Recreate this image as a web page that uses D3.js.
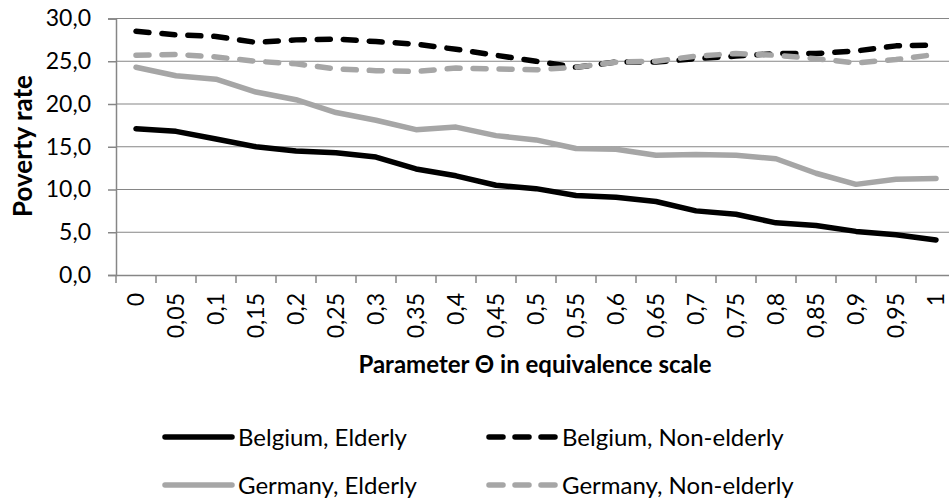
<!DOCTYPE html>
<html><head><meta charset="utf-8">
<script src="https://cdn.jsdelivr.net/npm/d3@7"></script>
<style>
html,body{margin:0;padding:0;background:#fff;}
text{font-family:Lato,"Open Sans",sans-serif;fill:#000;}
</style></head>
<body><svg id="chart" width="949" height="502"></svg>
<script>
const categories = ["0","0,05","0,1","0,15","0,2","0,25","0,3","0,35","0,4","0,45","0,5","0,55","0,6","0,65","0,7","0,75","0,8","0,85","0,9","0,95","1"];
const belgiumElderly    = [17.1,16.8,15.9,15.0,14.5,14.3,13.8,12.4,11.6,10.5,10.1,9.3,9.1,8.6,7.5,7.1,6.1,5.8,5.1,4.7,4.1];
const belgiumNonElderly = [28.5,28.1,27.9,27.2,27.5,27.6,27.3,27.0,26.4,25.7,25.0,24.3,24.9,24.9,25.3,25.6,25.9,25.9,26.2,26.8,26.9];
const germanyElderly    = [24.3,23.3,22.9,21.4,20.5,19.0,18.1,17.0,17.3,16.3,15.8,14.8,14.7,14.0,14.1,14.0,13.6,11.9,10.6,11.2,11.3];
const germanyNonElderly = [25.7,25.8,25.5,25.0,24.7,24.1,23.9,23.8,24.2,24.1,24.0,24.3,24.9,25.0,25.6,25.9,25.7,25.3,24.8,25.2,25.8];
const yTicks = [0,5,10,15,20,25,30];
const seriesNames = ["Belgium, Elderly","Belgium, Non-elderly","Germany, Elderly","Germany, Non-elderly"];

(function(){
const series = [
  {name:seriesNames[0], values:belgiumElderly, color:"#000000", dash:null},
  {name:seriesNames[1], values:belgiumNonElderly, color:"#000000", dash:"13 13"},
  {name:seriesNames[2], values:germanyElderly, color:"#a6a6a6", dash:null},
  {name:seriesNames[3], values:germanyNonElderly, color:"#a6a6a6", dash:"13 13"}
];

const svg = d3.select("#chart");
const pLeft = 116, pRight = 956, pTop = 18.5, pBottom = 275;
const x = d3.scaleBand().domain(categories).range([pLeft, pRight]).paddingInner(0).paddingOuter(0);
const y = d3.scaleLinear().domain([0,30]).range([pBottom, pTop]);
const gridColor = "#868686";
const fmt = v => d3.format(".1f")(v).replace(".", ",");

svg.append("g").selectAll("line").data(yTicks.filter(d=>d>0)).join("line")
  .attr("x1", pLeft).attr("x2", pRight)
  .attr("y1", d=>y(d)).attr("y2", d=>y(d))
  .attr("stroke", gridColor).attr("stroke-width", 1.2);

const yAxis = svg.append("g").attr("transform", `translate(${pLeft},0)`)
  .call(d3.axisLeft(y).tickValues(yTicks).tickFormat(fmt).tickSize(8).tickPadding(17));
yAxis.select(".domain").attr("stroke", gridColor).attr("stroke-width", 1.5);
yAxis.selectAll(".tick line").attr("stroke", gridColor).attr("stroke-width", 1.5);
yAxis.selectAll("text").style("font-family","Lato").style("font-size","23px").attr("fill","#000");

const xAxis = svg.append("g").attr("transform", `translate(0,${pBottom})`)
  .call(d3.axisBottom(x).tickSize(0).tickSizeOuter(0));
xAxis.select(".domain").attr("stroke", gridColor).attr("stroke-width", 1.5);
svg.append("g").selectAll("line").data(categories).join("line")
  .attr("x1", d=>x(d)).attr("x2", d=>x(d))
  .attr("y1", pBottom).attr("y2", pBottom+8)
  .attr("stroke", gridColor).attr("stroke-width", 1.5);
xAxis.selectAll(".tick text")
  .style("font-family","Lato").style("font-size","23px").attr("fill","#000")
  .attr("text-anchor","end")
  .attr("transform","rotate(-90)")
  .attr("x", -18).attr("y", 0).attr("dy","0.36em");

const line = d3.line()
  .x((d,i)=>x(categories[i]) + x.bandwidth()/2)
  .y(d=>y(d));
svg.append("g").selectAll("path").data(series).join("path")
  .attr("d", d=>line(d.values))
  .attr("fill","none")
  .attr("stroke", d=>d.color)
  .attr("stroke-width", 5.5)
  .attr("stroke-linejoin","round")
  .attr("stroke-linecap","round")
  .attr("stroke-dasharray", d=>d.dash);

svg.append("text")
  .attr("transform","translate(32,146) rotate(-90)")
  .attr("text-anchor","middle")
  .style("font-weight","bold").style("font-size","26px")
  .text("Poverty rate");
svg.append("text")
  .attr("x", 535).attr("y", 373)
  .attr("text-anchor","middle")
  .style("font-weight","bold").style("font-size","24px")
  .text("Parameter Θ in equivalence scale");

const legendPos = [[162,437],[486,437],[162,485],[486,485]];
const lg = svg.append("g").selectAll("g").data(series).join("g")
  .attr("transform",(d,i)=>`translate(${legendPos[i][0]},${legendPos[i][1]})`);
lg.append("line").attr("x1",3).attr("x2",70).attr("y1",0).attr("y2",0)
  .attr("stroke",d=>d.color).attr("stroke-width",5.5)
  .attr("stroke-linecap","round")
  .attr("stroke-dasharray",d=>d.dash ? "14 12" : null);
lg.append("text").attr("x",76).attr("y",0).attr("dy","0.36em")
  .style("font-size","24px").text(d=>d.name);
})();
</script></body></html>
